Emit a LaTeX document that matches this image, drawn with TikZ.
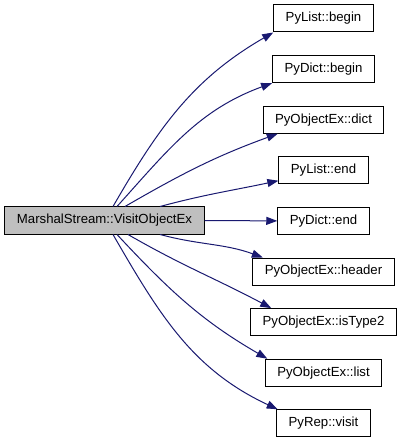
\documentclass[tikz,border=0pt]{standalone}
\usepackage{fontspec}
\setmainfont{Liberation Sans}
\usetikzlibrary{arrows.meta}
\definecolor{edgeblue}{HTML}{191970}
\definecolor{mainfill}{HTML}{BFBFBF}

\begin{document}
\begin{tikzpicture}[x=1pt, y=-1pt, node distance=50.6pt,
  fn/.style={draw, fill=white, line width=1pt, inner xsep=12pt, inner ysep=0pt, minimum height=27pt, font=\fontsize{13.2}{15}\selectfont},
  call/.style={draw=edgeblue, line width=1pt, -{Triangle[length=11pt,width=8pt]}}]
\useasboundingbox (0,0) rectangle (401,443);
\node[fn, fill=mainfill] (vo) at (104.5,220.5) {MarshalStream::VisitObjectEx};
\node[fn] (lb) at (323.5,18.5) {PyList::begin};
\node[fn, below of=lb] (db) {PyDict::begin};
\node[fn, below of=db] (od) {PyObjectEx::dict};
\node[fn, below of=od] (le) {PyList::end};
\node[fn, below of=le] (de) {PyDict::end};
\node[fn, below of=de] (oh) {PyObjectEx::header};
\node[fn, below of=oh] (ot) {PyObjectEx::isType2};
\node[fn, below of=ot] (ol) {PyObjectEx::list};
\node[fn, below of=ol] (rv) {PyRep::visit};
\draw[call] ([xshift=8.5pt]vo.north) to[out=60, in=210] (lb.south west);
\draw[call] ([xshift=12.5pt]vo.north) to[out=48, in=200] (db.south west);
\draw[call] ([xshift=20.5pt]vo.north) to[out=30, in=200] (od.197);
\draw[call] ([xshift=55.5pt]vo.north) to[out=15, in=192] (le.193);
\draw[call] (vo.east) -- (de.west);
\draw[call] ([xshift=55.5pt]vo.south) to[out=-15, in=160] (oh.167);
\draw[call] ([xshift=23.5pt]vo.south) to[out=-30, in=152] (ot.165);
\draw[call] ([xshift=12.5pt]vo.south) to[out=-47, in=150] (ol.166);
\draw[call] ([xshift=8.5pt]vo.south) to[out=-60, in=155] (rv.163);
\end{tikzpicture}
\end{document}
